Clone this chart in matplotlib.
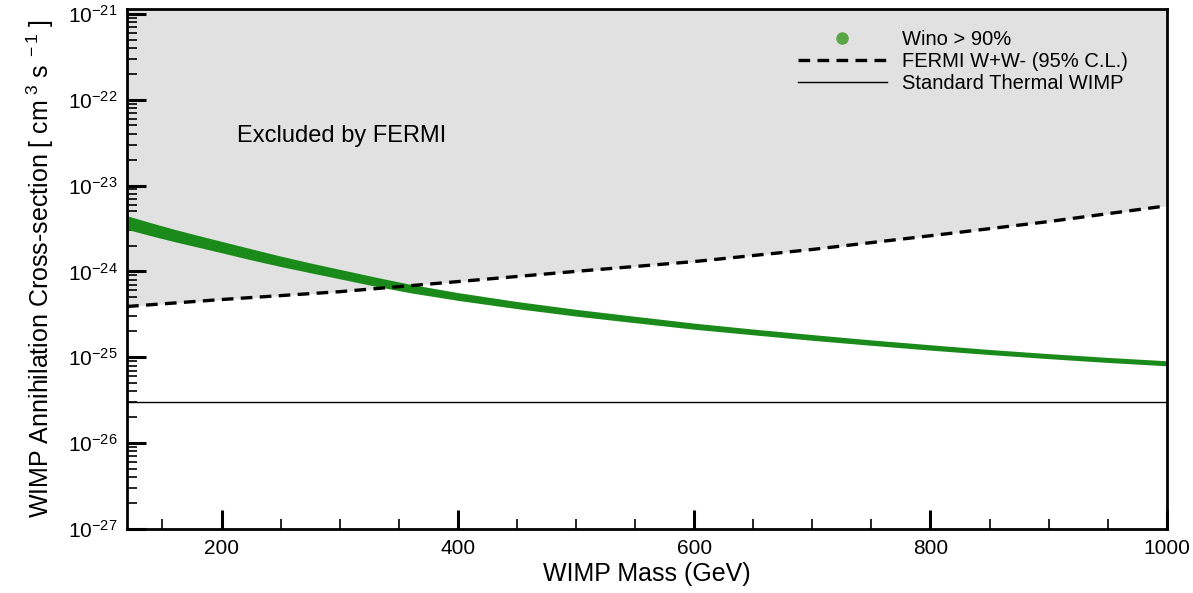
import matplotlib
matplotlib.use("Agg")
import matplotlib.pyplot as plt
import numpy as np
from matplotlib.ticker import LogLocator, MultipleLocator, LogFormatterMathtext, NullFormatter
from matplotlib.lines import Line2D

plt.rcParams['font.family'] = ['Liberation Sans', 'DejaVu Sans']
plt.rcParams['mathtext.fontset'] = 'custom'
plt.rcParams['mathtext.rm'] = 'Liberation Sans'
plt.rcParams['mathtext.it'] = 'Liberation Sans:italic'

# FERMI W+W- limit (95% C.L.)
fermi_mass = [120, 200, 300, 400, 500, 600, 700, 800, 900, 1000]
fermi_sigma = [3.9e-25, 4.7e-25, 5.8e-25, 7.6e-25, 1.0e-24, 1.3e-24, 1.8e-24, 2.6e-24, 3.8e-24, 5.8e-24]

# Wino > 90% band: centre value and half-width factor
wino_mass = [120, 140, 160, 180, 200, 225, 250, 275, 300, 330, 360, 400, 450, 500,
             550, 600, 650, 700, 750, 800, 850, 900, 950, 1000]
wino_sigma = [3.7e-24, 3.1e-24, 2.62e-24, 2.24e-24, 1.92e-24, 1.58e-24, 1.31e-24, 1.1e-24,
              9.3e-25, 7.6e-25, 6.3e-25, 5.1e-25, 4.05e-25, 3.3e-25, 2.75e-25, 2.3e-25,
              1.97e-25, 1.7e-25, 1.48e-25, 1.3e-25, 1.15e-25, 1.03e-25, 9.3e-26, 8.5e-26]
wino_spread = [1.20, 1.19, 1.18, 1.17, 1.165, 1.16, 1.15, 1.14, 1.135, 1.13, 1.12, 1.11, 1.10, 1.095,
               1.09, 1.085, 1.08, 1.08, 1.075, 1.075, 1.07, 1.07, 1.07, 1.07]

thermal_sigma = 3e-26

y_top = 1.14e-21

fig = plt.figure(figsize=(11.93, 5.93), dpi=100)
ax = fig.add_axes([0.1065, 0.108, 0.8715, 0.877])

ax.set_yscale('log')
ax.set_xlim(120, 1000)
ax.set_ylim(1e-27, y_top)

# excluded region
fx = np.array(fermi_mass)
fy = np.array(fermi_sigma)
ax.fill_between(fx, fy, y_top, color='#e1e1e1', lw=0, zorder=0)
ax.plot(fx, fy, color='black', ls=(0, (3.5, 2.2)), lw=2.4, zorder=3)

# wino band
wm = np.array(wino_mass)
ws = np.array(wino_sigma)
wsp = np.array(wino_spread)
ax.fill_between(wm, ws / wsp, ws * wsp, color='#1a8a1a', lw=0, zorder=2)

ax.axhline(thermal_sigma, color='black', lw=1.0, zorder=3)

ax.text(213, 3.8e-23, 'Excluded by FERMI', fontsize=17, va='center', ha='left')

handles = [
    Line2D([], [], ls='none', marker='o', color='#5aa545', markersize=8),
    Line2D([], [], color='black', ls=(0, (3.5, 2.2)), lw=2.4),
    Line2D([], [], color='black', lw=1.0),
]
labels = ['Wino > 90%', 'FERMI W+W- (95% C.L.)', 'Standard Thermal WIMP']
ax.legend(handles, labels, loc='upper left', frameon=False, fontsize=14.5,
          bbox_to_anchor=(798 / 1193, 1 - 30 / 593), bbox_transform=fig.transFigure,
          borderpad=0, borderaxespad=0, handlelength=4.4, handletextpad=0.75,
          labelspacing=0.15)

ax.set_xticks([200, 400, 600, 800, 1000])
ax.xaxis.set_minor_locator(MultipleLocator(50))
ax.set_yticks([10.0 ** e for e in range(-27, -20)])
ax.yaxis.set_minor_locator(LogLocator(base=10, subs=np.arange(2, 10), numticks=20))
ax.yaxis.set_major_formatter(LogFormatterMathtext())
ax.yaxis.set_minor_formatter(NullFormatter())

ax.tick_params(which='major', direction='in', length=14, width=2.2, labelsize=15, pad=7)
ax.tick_params(which='minor', direction='in', length=7, width=1.2)
for s in ax.spines.values():
    s.set_linewidth(2)

ax.set_xlabel('WIMP Mass (GeV)', fontsize=18, labelpad=3)
ax.set_ylabel(r'WIMP Annihilation Cross-section [ cm$^{\ 3}$ s$^{\ -1}$ ]', fontsize=18, labelpad=8)

fig.savefig('out.png', dpi=100)
